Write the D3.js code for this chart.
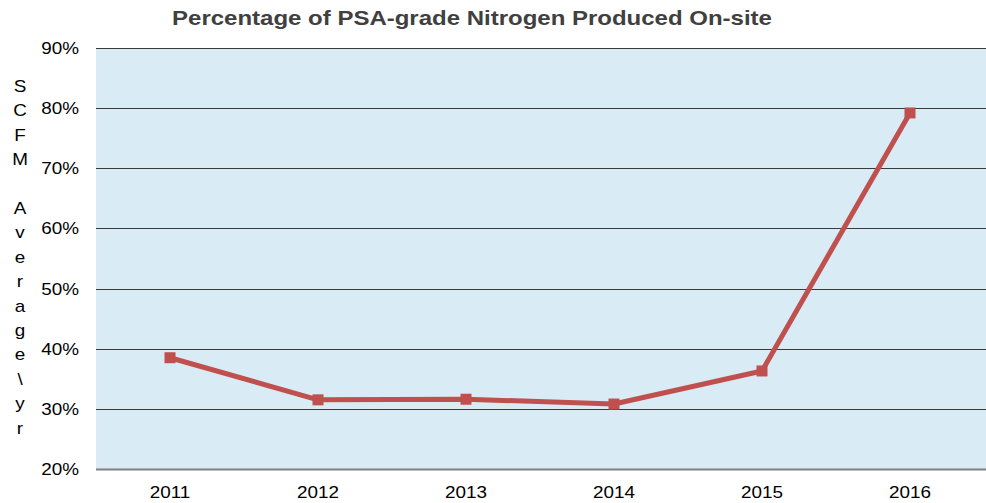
<!DOCTYPE html>
<html>
<head>
<meta charset="utf-8">
<script src="https://cdn.jsdelivr.net/npm/d3@7"></script>
<style>
  body { margin: 0; background: #fff; }
  svg text { font-family: "Liberation Sans", Arial, sans-serif; }
</style>
</head>
<body>
<div id="chart"></div>
<script>
const years = ['2011', '2012', '2013', '2014', '2015', '2016']
const percentOnsite = [38.5, 31.5, 31.6, 30.8, 36.3, 79.2]
const yTicks = [20, 30, 40, 50, 60, 70, 80, 90]
const yLabelLetters = ['S', 'C', 'F', 'M', '', 'A', 'v', 'e', 'r', 'a', 'g', 'e', '\\', 'y', 'r']

const width = 986
const height = 503
const margin = { top: 48, right: 2, bottom: 34, left: 96 }
// the original text is a bit wider than plain Arial
const stretch = 1.18

const svg = d3.select('#chart')
    .append('svg')
    .attr('width', width)
    .attr('height', height)

// scales
const x = d3.scaleBand()
    .domain(years)
    .range([margin.left, margin.left + 6 * 148])

const y = d3.scaleLinear()
    .domain([20, 90])
    .range([height - margin.bottom, margin.top])

const at = (px, py) => 'translate(' + px + ',' + py + ') scale(' + stretch + ',1)'

// plot background
svg.append('rect')
    .attr('x', margin.left)
    .attr('y', margin.top)
    .attr('width', width - margin.left)
    .attr('height', y(20) - y(90))
    .attr('fill', '#d9ebf4')

// gridlines
svg.selectAll('.grid')
    .data(yTicks)
    .enter()
    .append('line')
    .attr('x1', margin.left)
    .attr('x2', width)
    .attr('y1', d => Math.round(y(d)) + 0.5)
    .attr('y2', d => Math.round(y(d)) + 0.5)
    .attr('stroke', d => d === 20 ? '#7f7f7f' : '#3a3a3a')
    .attr('stroke-width', d => d === 20 ? 2 : 1)

// y tick labels
svg.selectAll('.ytick')
    .data(yTicks)
    .enter()
    .append('text')
    .attr('transform', d => at(79, y(d) + 6))
    .attr('text-anchor', 'end')
    .attr('font-size', 16)
    .attr('fill', '#000')
    .text(d => d + '%')

// x axis labels
const xAxis = d3.axisBottom(x).tickSize(0).tickPadding(0)
svg.append('g')
    .attr('transform', 'translate(0,' + (height - margin.bottom) + ')')
    .call(xAxis)
    .call(g => g.select('.domain').remove())
    .selectAll('text')
    .attr('font-size', 16)
    .attr('font-family', '"Liberation Sans", Arial, sans-serif')
    .attr('fill', '#000')
    .attr('dy', 0)
    .attr('y', 0)
    .attr('transform', at(0, 29))

// stacked y axis title
svg.selectAll('.ylabel')
    .data(yLabelLetters)
    .enter()
    .append('text')
    .attr('transform', (d, i) => at(20, 92 + i * 24.4))
    .attr('text-anchor', 'middle')
    .attr('font-size', 16)
    .attr('fill', '#000')
    .text(d => d)

// title
svg.append('text')
    .attr('transform', 'translate(472,25) scale(1.2,1)')
    .attr('text-anchor', 'middle')
    .attr('font-size', 20)
    .attr('font-weight', 'bold')
    .attr('fill', '#404040')
    .text('Percentage of PSA-grade Nitrogen Produced On-site')

// line
const line = d3.line()
    .x((d, i) => x(years[i]) + x.bandwidth() / 2)
    .y(d => y(d))

svg.append('path')
    .datum(percentOnsite)
    .attr('d', line)
    .attr('fill', 'none')
    .attr('stroke', '#c0504d')
    .attr('stroke-width', 5)
    .attr('stroke-linejoin', 'round')

// square markers
svg.selectAll('.marker')
    .data(percentOnsite)
    .enter()
    .append('rect')
    .attr('x', (d, i) => x(years[i]) + x.bandwidth() / 2 - 5.5)
    .attr('y', d => y(d) - 5.5)
    .attr('width', 11)
    .attr('height', 11)
    .attr('fill', '#c0504d')
</script>
</body>
</html>
